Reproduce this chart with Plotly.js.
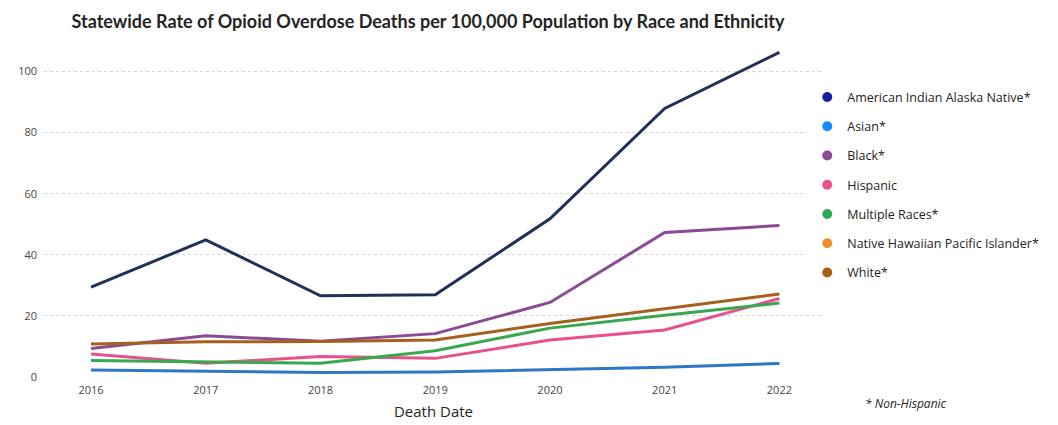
<!DOCTYPE html>
<html>
<head>
<meta charset="utf-8">
<script src="https://cdn.plot.ly/plotly-3.0.1.min.js"></script>
<style>html,body{margin:0;padding:0;background:#fff;}#chart{width:1058px;height:425px;}</style>
</head>
<body>
<div id="chart"></div>
<script>
const years = [2016, 2017, 2018, 2019, 2020, 2021, 2022];
const seriesNames = ["American Indian Alaska Native*", "Asian*", "Black*", "Hispanic", "Multiple Races*", "Native Hawaiian Pacific Islander*", "White*"];
const aian = [29.4, 44.9, 26.6, 26.9, 51.8, 87.9, 106.3];
const asian = [2.3, 1.8, 1.5, 1.6, 2.5, 3.2, 4.4];
const black = [9.3, 13.5, 11.7, 14.2, 24.4, 47.3, 49.6];
const hispanic = [7.5, 4.5, 6.7, 6.1, 12.1, 15.4, 25.7];
const multiple = [5.4, 4.9, 4.5, 8.6, 16.0, 20.2, 24.2];
const nhpi = [null, null, null, null, null, null, null];
const white = [10.8, 11.5, 11.6, 12.1, 17.5, 22.4, 27.2];
const yTicks = [0, 20, 40, 60, 80, 100];

const seriesValues = [aian, asian, black, hispanic, multiple, nhpi, white];
const lineColors = ["#213059", "#2d77c5", "#8a4a94", "#e8518c", "#38a84f", "#f28e2b", "#a4601c"];
const dotColors = ["#12239E", "#118DFF", "#8c4799", "#e8548e", "#2fa85a", "#f28e2b", "#a95e16"];

const traces = [];
const drawOrder = [1, 3, 4, 2, 6, 5, 0];
drawOrder.forEach(i => {
  traces.push({
    x: years, y: seriesValues[i], type: 'scatter', mode: 'lines',
    line: {color: lineColors[i], width: 3}, showlegend: false, name: seriesNames[i],
    hoverinfo: 'x+y+name'
  });
});
seriesNames.forEach((n, i) => {
  traces.push({
    x: [null], y: [null], type: 'scatter', mode: 'markers', name: n,
    marker: {color: dotColors[i], size: 10}, legendgroup: 'g' + i, showlegend: true
  });
});

const layout = {
  width: 1058, height: 425,
  margin: {l: 44, r: 235, t: 41, b: 48, autoexpand: false},
  paper_bgcolor: '#fff', plot_bgcolor: '#fff',
  font: {family: 'Open Sans, sans-serif', color: '#252423'},
  title: {text: '<b>Statewide Rate of Opioid Overdose Deaths per 100,000 Population by Race and Ethnicity</b>',
    x: 0.4045, xanchor: 'center', y: 0.948, yanchor: 'middle', xref: 'container', yref: 'container',
    font: {family: 'Lato, sans-serif', size: 18, color: '#252423'}},
  xaxis: {
    range: [2015.59, 2022.38], tickvals: years, ticktext: years.map(String),
    showgrid: false, zeroline: false, showline: false, ticks: '',
    tickfont: {size: 11, color: '#444'}, ticklabelstandoff: 5,
    title: {text: 'Death Date', font: {size: 15, color: '#252423'}, standoff: 10}
  },
  yaxis: {
    range: [0, 110], tickvals: yTicks, ticktext: yTicks.map(String),
    showgrid: true, gridcolor: '#d6d6d6', griddash: 'dot', gridwidth: 1,
    zeroline: false, showline: false, ticks: '', ticklabelstandoff: 6,
    tickfont: {size: 11, color: '#444'}
  },
  legend: {
    xref: 'container', yref: 'container',
    x: 0.763, xanchor: 'left', y: 0.806, yanchor: 'top',
    traceorder: 'grouped', tracegroupgap: 10,
    font: {size: 12.5, color: '#252423'}, itemwidth: 30
  },
  annotations: [{
    text: '<i>* Non-Hispanic</i>', xref: 'paper', yref: 'paper',
    x: 1.051, y: -0.08, xanchor: 'left', yanchor: 'middle', showarrow: false,
    font: {size: 12, color: '#252423'}
  }]
};

Plotly.newPlot('chart', traces, layout, {displayModeBar: false, staticPlot: true});
</script>
</body>
</html>
